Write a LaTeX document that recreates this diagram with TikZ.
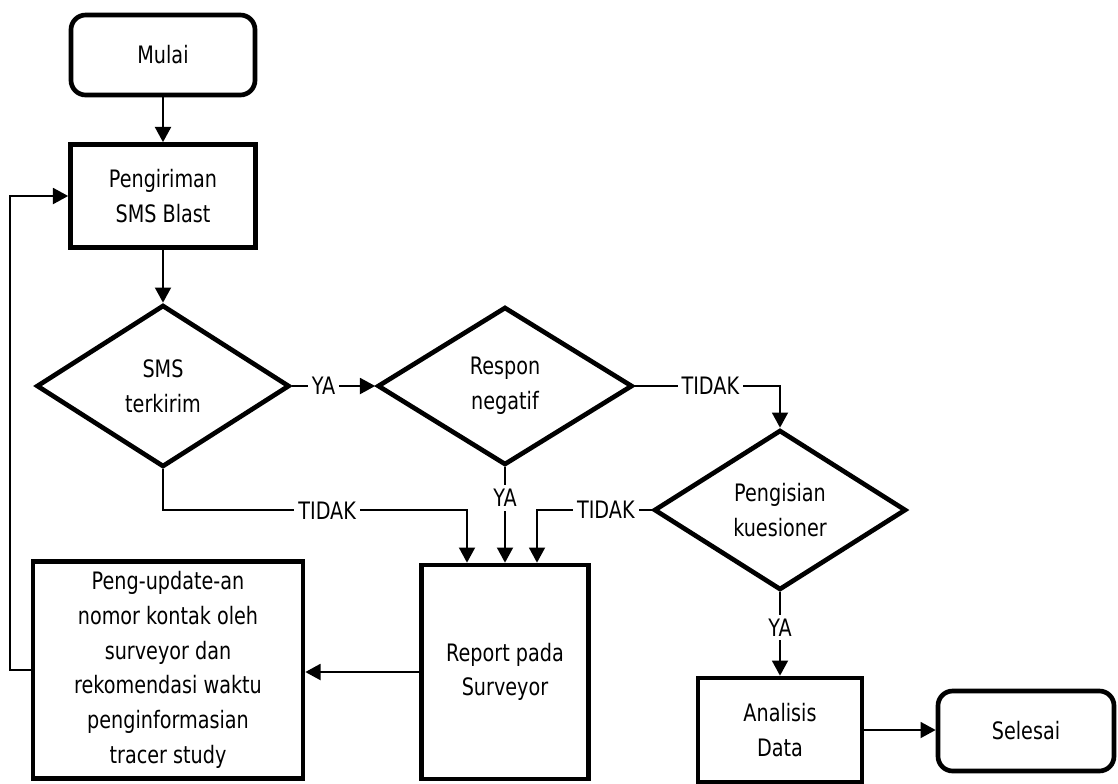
\documentclass[tikz,border=0pt]{standalone}
\usepackage{fontspec}
\setmainfont{DejaVu Sans}[FakeStretch=0.8]
\usepackage{tikz}
\usetikzlibrary{shapes.geometric,arrows.meta,calc}
\tikzset{>={Triangle[width=4.2mm,length=4mm]}}
\tikzset{
  proses/.style={shape=rectangle,draw,line width=3.5pt,align=center,inner sep=0pt},
  keputusan/.style={shape=diamond,draw,line width=3.5pt,align=center,inner sep=0pt},
  terminal/.style={shape=rectangle,draw,line width=3.5pt,rounded corners=11pt,align=center},
  jawab/.style={fill=white,inner sep=3pt},
  alur/.style={->,line width=1.6pt}
}

\begin{document}
\begin{tikzpicture}[x=0.75pt,y=-0.75pt,font=\fontsize{18}{26}\selectfont]

\useasboundingbox (0,0) rectangle (1118,783);

\path (163,55) node [terminal,minimum width=138pt,minimum height=60pt] (mulai) {Mulai};

\path (163,196) node [proses,minimum width=138.75pt,minimum height=77.25pt] (kirim) {Pengiriman\\SMS Blast};

\path (163,386) node [keputusan,minimum width=189.75pt,minimum height=121.5pt] (smsok) {SMS\\terkirim};

\path (505,386) node [keputusan,minimum width=191.25pt,minimum height=118.5pt] (respon) {Respon\\negatif};

\path (780,510) node [keputusan,minimum width=189pt,minimum height=120pt] (isi) {Pengisian\\kuesioner};

\path (505,672) node [proses,minimum width=125.25pt,minimum height=160.5pt] (report) {Report pada\\Surveyor};

\path (168,670) node [proses,minimum width=202.5pt,minimum height=162.75pt] (update) {Peng-update-an\\nomor kontak oleh\\surveyor dan\\rekomendasi waktu\\penginformasian\\tracer study};

\path (780,730) node [proses,minimum width=123pt,minimum height=78pt] (analisis) {Analisis\\Data};

\path (1026,731) node [terminal,minimum width=132pt,minimum height=60pt] (selesai) {Selesai};

% alur utama
\draw[alur] (mulai.south) -- (kirim.north);
\draw[alur] (kirim.south) -- (smsok.north);
\draw[alur] (smsok.east) -- node[jawab,pos=0.38]{YA} (respon.west);
\draw[alur] (respon.east) -| node[jawab,pos=0.26]{TIDAK} (isi.north);
\draw[alur] (smsok.south) -- ++(0,41) -| node[jawab,pos=0.27]{TIDAK} ($(report.north)+(-38,0)$);
\draw[alur] (respon.south) -- node[jawab,pos=0.32]{YA} (report.north);
\draw[alur] (isi.west) -| node[jawab,pos=0.2]{TIDAK} ($(report.north)+(32,0)$);
\draw[alur] (isi.south) -- node[jawab,pos=0.42]{YA} (analisis.north);
\draw[alur] (analisis.east) -- (analisis.east -| selesai.west);

% umpan balik
\draw[alur] (report.west) -- (report.west -| update.east);
\draw[alur] (update.west) -- ++(-21,0) |- (kirim.west);

\end{tikzpicture}
\end{document}
